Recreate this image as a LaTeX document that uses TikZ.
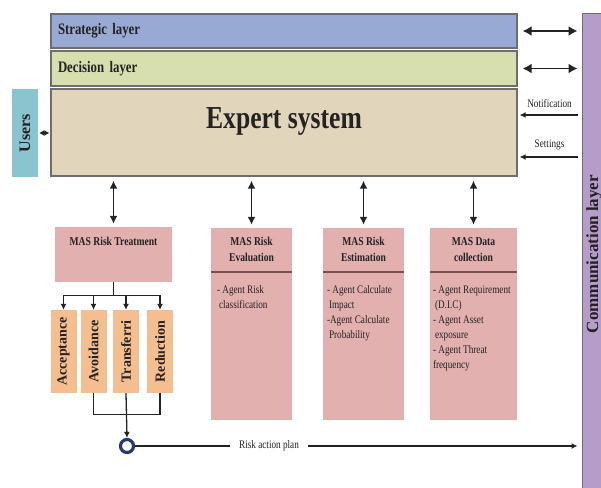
\documentclass[tikz,border=0pt]{standalone}
\usepackage{fontspec}
\setmainfont{Liberation Serif}[FakeStretch=0.8]
\newfontfamily\vertfont{Liberation Serif}
\usetikzlibrary{arrows.meta, positioning}

\definecolor{stratblue}{RGB}{152,170,211}
\definecolor{decgreen}{RGB}{215,223,174}
\definecolor{expertbeige}{RGB}{225,214,188}
\definecolor{userteal}{RGB}{138,196,206}
\definecolor{commpurple}{RGB}{182,156,200}
\definecolor{maspink}{RGB}{226,176,174}
\definecolor{optorange}{RGB}{245,190,142}
\definecolor{framegrey}{RGB}{110,110,110}
\definecolor{inkdark}{RGB}{35,35,35}
\definecolor{ringnavy}{RGB}{44,56,118}
\definecolor{dividerbrown}{RGB}{120,80,80}

\begin{document}
\begin{tikzpicture}[x=1pt, y=-1pt,
        every node/.style={text=inkdark},
        layer/.style={draw=framegrey, line width=1.2pt, minimum width=466pt, inner xsep=7pt, inner ysep=0pt,
            text width=452pt, align=left, font=\fontsize{16}{18}\selectfont\bfseries},
        masbox/.style={fill=maspink, minimum height=192pt, inner sep=0pt},
        mashead/.style={align=center, inner sep=0pt, font=\fontsize{12}{16}\selectfont\bfseries},
        masbody/.style={anchor=north west, align=left, inner sep=0pt, font=\fontsize{11.5}{15}\selectfont},
        optbox/.style={fill=optorange, minimum width=26pt, minimum height=83pt, inner sep=0pt},
        optlabel/.style={rotate=90, font=\vertfont\bfseries\fontsize{14}{16}\selectfont},
        smalltext/.style={font=\fontsize{11.5}{14}\selectfont},
        divider/.style={draw=dividerbrown, line width=1.4pt},
        link/.style={draw=inkdark, line width=1.3pt},
        flow/.style={link, -{Latex[length=6pt,width=6pt]}},
        dblarrow/.style={draw=inkdark, line width=1.8pt, {Latex[length=9pt,width=10pt]}-{Latex[length=9pt,width=10pt]},
            shorten <=5pt, shorten >=4pt},
        vdbl/.style={draw=inkdark, line width=1.7pt, {Latex[length=8pt,width=8pt]}-{Latex[length=8pt,width=8pt]},
            shorten <=4pt, shorten >=3pt}
    ]
    \useasboundingbox (0,0) rectangle (601,487);

    % Layers
    \node[layer, fill=stratblue, minimum height=34pt] (strategic) at (284,31) {Strategic layer};
    \node[layer, fill=decgreen, minimum height=35pt] (decision) at (284,68.5) {Decision layer};
    \node[layer, fill=expertbeige, minimum height=87pt] (expert) at (284,132.5) {};
    \node[font=\fontsize{32}{36}\selectfont\bfseries] (experttitle) at (284,121) {Expert system};

    \node[fill=userteal, minimum width=26pt, minimum height=88pt, inner sep=0pt,
        label={[rotate=90, text=inkdark, font=\vertfont\bfseries\fontsize{16}{18}\selectfont]center:Users}] (users) at (25,133) {};
    \node[draw=framegrey, line width=1pt, fill=commpurple, minimum width=24pt, minimum height=480pt, inner sep=0pt,
        label={[rotate=90, text=inkdark, font=\vertfont\bfseries\fontsize{17}{20}\selectfont]center:Communication layer}] (comm) at (594,254) {};

    % MAS boxes
    \node[fill=maspink, minimum width=117pt, minimum height=55pt, inner sep=0pt] (treat) at (113.5,254.5) {};
    \node[mashead, anchor=north] (treathead) at ([yshift=-10pt]treat.north) {MAS Risk Treatment};

    \node[masbox, minimum width=81pt] (eval) at (251.5,324) {};
    \node[mashead] (evalhead) at ([yshift=-22pt]eval.north) {MAS Risk\\Evaluation};
    \draw[divider] ([yshift=-44pt]eval.north west) -- ([yshift=-44pt]eval.north east);
    \node[masbody] (evalbody) at ([xshift=6pt,yshift=-58pt]eval.north west) {- Agent Risk\\\hspace{2pt}classification};

    \node[masbox, minimum width=81pt] (estim) at (363.5,324) {};
    \node[mashead] (estimhead) at ([yshift=-22pt]estim.north) {MAS Risk\\Estimation};
    \draw[divider] ([yshift=-44pt]estim.north west) -- ([yshift=-44pt]estim.north east);
    \node[masbody] (estimbody) at ([xshift=4pt,yshift=-58pt]estim.north west)
        {- Agent Calculate\\\hspace{2pt}Impact\\-Agent Calculate\\\hspace{2pt}Probability};

    \node[masbox, minimum width=87pt] (datac) at (473.5,324) {};
    \node[mashead] (datachead) at ([yshift=-22pt]datac.north) {MAS Data\\collection};
    \draw[divider] ([yshift=-44pt]datac.north west) -- ([yshift=-44pt]datac.north east);
    \node[masbody] (datacbody) at ([xshift=3pt,yshift=-58pt]datac.north west)
        {- Agent Requirement\\\hspace{2pt}(D.I.C)\\- Agent Asset\\\hspace{2pt}exposure\\- Agent Threat\\frequency};

    % Treatment options
    \node[optbox, label={[optlabel]center:Acceptance}] (accept) at (63.5,351.5) {};
    \node[optbox, label={[optlabel]center:Avoidance}] (avoid) at (93.5,351.5) {};
    \node[optbox, label={[optlabel]center:Transferri}] (transf) at (126,351.5) {};
    \node[optbox, label={[optlabel]center:Reduction}] (reduct) at (160,351.5) {};

    \node[circle, draw=ringnavy, line width=3.2pt, fill=white, minimum size=13pt, inner sep=0pt] (plan) at (127,446) {};

    % Arrows
    \draw[dblarrow] (strategic.east) -- (strategic.east -| comm.west);
    \draw[dblarrow] (decision.east) -- (decision.east -| comm.west);
    \draw[link, {Latex[length=5pt,width=6pt]}-{Latex[length=5pt,width=6pt]}, shorten <=1pt, shorten >=1pt]
        (users.east) -- (users.east -| expert.west);

    \coordinate (notif) at ([yshift=17.5pt]expert.east);
    \coordinate (sett) at ([yshift=-24.5pt]expert.east);
    \draw[flow, shorten <=4pt, shorten >=2pt] (notif -| comm.west) -- (notif)
        node[midway, above=3pt, smalltext] (notiflabel) {Notification};
    \draw[flow, shorten <=4pt, shorten >=2pt] (sett -| comm.west) -- (sett)
        node[midway, above=3pt, smalltext] (settlabel) {Settings};

    \foreach \b in {treat, eval, estim, datac}
        \draw[vdbl] (expert.south -| \b.north) -- (\b.north);

    \draw[link] (treat.south) -- ++(0,13) coordinate (split);
    \draw[link] (split -| accept.north) -- (split -| reduct.north);
    \foreach \b in {accept, avoid, transf, reduct}
        \draw[flow] (split -| \b.north) -- (\b.north);

    \draw[link] (avoid.south) -- ++(0,21) -| (reduct.south);
    \draw[flow] (transf.south) -- (plan.north);
    \draw[flow, shorten >=4pt] (plan.east) -- (plan -| comm.west)
        node[pos=0.3, fill=white, inner xsep=9pt, smalltext] (planlabel) {Risk action plan};

\end{tikzpicture}
\end{document}
